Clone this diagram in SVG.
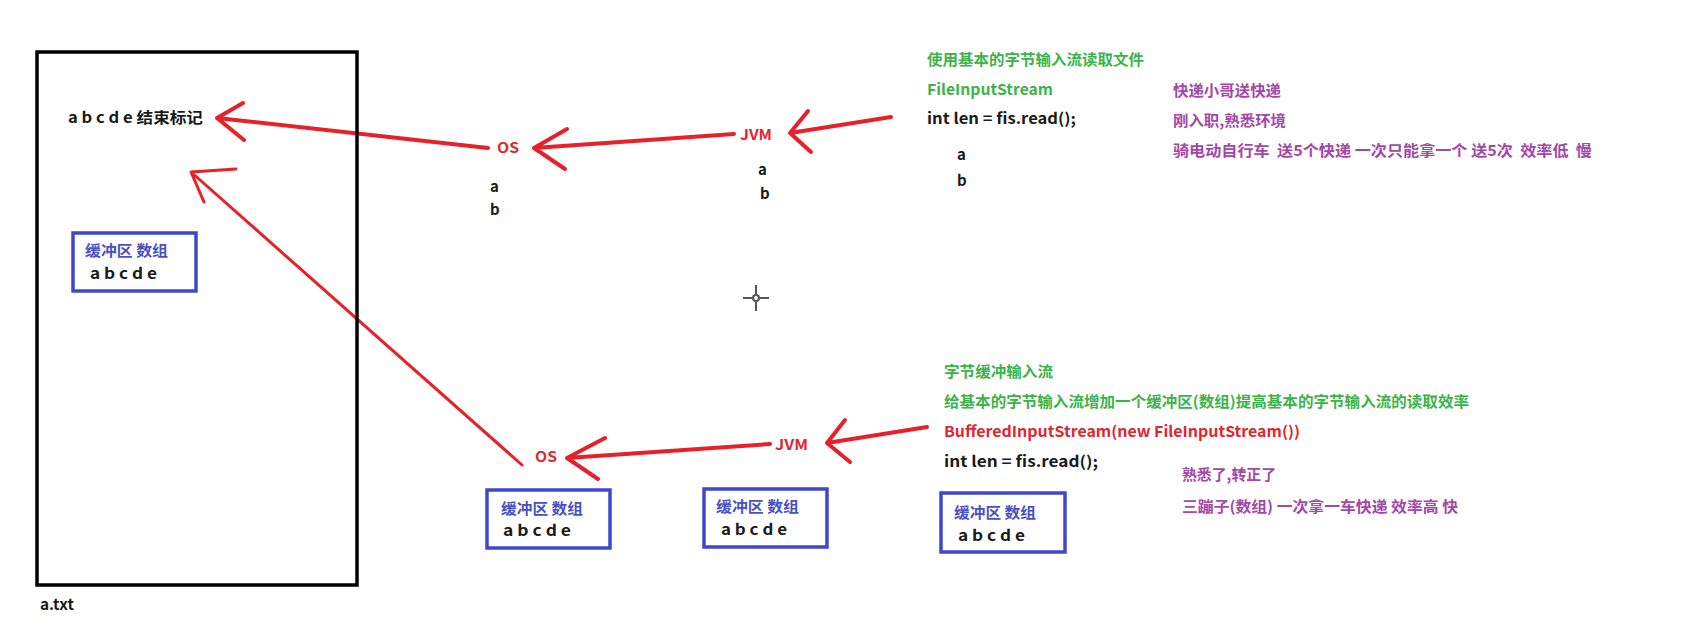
<svg xmlns="http://www.w3.org/2000/svg" width="1698" height="637" viewBox="0 0 1698 637">
<style>
.t{font-family:"Noto Sans CJK SC","Noto Sans",sans-serif;font-weight:bold;font-size:15px;dominant-baseline:central}
.k{fill:#1a1a1a}
.g{fill:#3cb34a}
.p{fill:#a347a8}
.r{fill:#e0262e}
.b{fill:#4a50c4}
.lbl{font-size:14px}
.arr{fill:none;stroke:#e8202a;stroke-width:4;stroke-linecap:round;stroke-linejoin:round}
.thin{stroke-width:3}
.buf{fill:none;stroke:#3f48cc;stroke-width:3.5}
</style>
<rect width="1698" height="637" fill="#ffffff"/>
<g id="connectors">
<path class="arr" d="M488,148 L217,118 M243,103 L217,118 L244,140"/>
<path class="arr" d="M734,134 L534,148 M567,129 L534,148 L565,169"/>
<path class="arr" d="M891,117 L790,133 M808,111 L790,133 L811,152"/>
<path class="arr thin" d="M522,465 L191,172 M236,169 L191,172 L204,202"/>
<path class="arr" d="M770,444 L567,458 M605,438 L567,458 L598,479"/>
<path class="arr" d="M927,427 L827,443 M845,420 L827,443 L850,462"/>
</g>
<g id="file">
<rect x="37" y="52" width="320" height="533" fill="none" stroke="#000" stroke-width="3.5"/>
<text class="t k" x="68" y="116" textLength="135" lengthAdjust="spacingAndGlyphs">a b c d e 结束标记</text>
<text class="t k" x="40" y="603" textLength="34" lengthAdjust="spacingAndGlyphs">a.txt</text>
</g>
<g id="buffer-file">
<rect class="buf" x="73" y="233" width="123" height="58"/>
<text class="t b" x="85" y="249" textLength="83" lengthAdjust="spacingAndGlyphs">缓冲区 数组</text>
<text class="t k" x="90" y="272" textLength="67" lengthAdjust="spacingAndGlyphs">a b c d e</text>
</g>
<g id="os1">
<text class="t r lbl" x="497" y="147" textLength="22" lengthAdjust="spacingAndGlyphs">OS</text>
<text class="t k" x="490" y="185">a</text>
<text class="t k" x="490" y="208">b</text>
</g>
<g id="jvm1">
<text class="t r lbl" x="740" y="134" textLength="32" lengthAdjust="spacingAndGlyphs">JVM</text>
<text class="t k" x="758" y="168">a</text>
<text class="t k" x="760" y="192">b</text>
</g>
<g id="code1">
<text class="t g" x="927" y="58" textLength="217" lengthAdjust="spacingAndGlyphs">使用基本的字节输入流读取文件</text>
<text class="t g" x="927" y="88" textLength="126" lengthAdjust="spacingAndGlyphs">FileInputStream</text>
<text class="t k" x="927" y="117" textLength="149" lengthAdjust="spacingAndGlyphs">int len = fis.read();</text>
<text class="t k" x="957" y="153">a</text>
<text class="t k" x="957" y="179">b</text>
</g>
<g id="note1">
<text class="t p" x="1173" y="89" textLength="108" lengthAdjust="spacingAndGlyphs">快递小哥送快递</text>
<text class="t p" x="1173" y="119" textLength="113" lengthAdjust="spacingAndGlyphs">刚入职,熟悉环境</text>
<text class="t p" x="1173" y="149" textLength="419" lengthAdjust="spacingAndGlyphs" xml:space="preserve">骑电动自行车  送5个快递 一次只能拿一个 送5次  效率低  慢</text>
</g>
<g id="cursor" stroke="#555" stroke-width="2" fill="none">
<path d="M743,298 H752 M760,298 H769 M756,285 V294 M756,302 V311"/>
<circle cx="756" cy="298" r="3"/>
</g>
<g id="os2">
<text class="t r lbl" x="535" y="456" textLength="22" lengthAdjust="spacingAndGlyphs">OS</text>
</g>
<g id="buffer-os">
<rect class="buf" x="487" y="490" width="123" height="58"/>
<text class="t b" x="501" y="507" textLength="82" lengthAdjust="spacingAndGlyphs">缓冲区 数组</text>
<text class="t k" x="503" y="529" textLength="68" lengthAdjust="spacingAndGlyphs">a b c d e</text>
</g>
<g id="jvm2">
<text class="t r lbl" x="775" y="444" textLength="33" lengthAdjust="spacingAndGlyphs">JVM</text>
</g>
<g id="buffer-jvm">
<rect class="buf" x="704" y="489" width="123" height="58"/>
<text class="t b" x="716" y="505" textLength="83" lengthAdjust="spacingAndGlyphs">缓冲区 数组</text>
<text class="t k" x="721" y="528" textLength="66" lengthAdjust="spacingAndGlyphs">a b c d e</text>
</g>
<g id="code2">
<text class="t g" x="944" y="370" textLength="109" lengthAdjust="spacingAndGlyphs">字节缓冲输入流</text>
<text class="t g" x="944" y="400" textLength="525" lengthAdjust="spacingAndGlyphs">给基本的字节输入流增加一个缓冲区(数组)提高基本的字节输入流的读取效率</text>
<text class="t r" x="944" y="430" textLength="356" lengthAdjust="spacingAndGlyphs">BufferedInputStream(new FileInputStream())</text>
<text class="t k" x="944" y="460" textLength="154" lengthAdjust="spacingAndGlyphs">int len = fis.read();</text>
</g>
<g id="buffer-code">
<rect class="buf" x="941" y="493" width="124" height="59"/>
<text class="t b" x="954" y="511" textLength="82" lengthAdjust="spacingAndGlyphs">缓冲区 数组</text>
<text class="t k" x="958" y="534" textLength="67" lengthAdjust="spacingAndGlyphs">a b c d e</text>
</g>
<g id="note2">
<text class="t p" x="1182" y="473" textLength="94" lengthAdjust="spacingAndGlyphs">熟悉了,转正了</text>
<text class="t p" x="1182" y="505" textLength="276" lengthAdjust="spacingAndGlyphs">三蹦子(数组) 一次拿一车快递 效率高 快</text>
</g>
</svg>
